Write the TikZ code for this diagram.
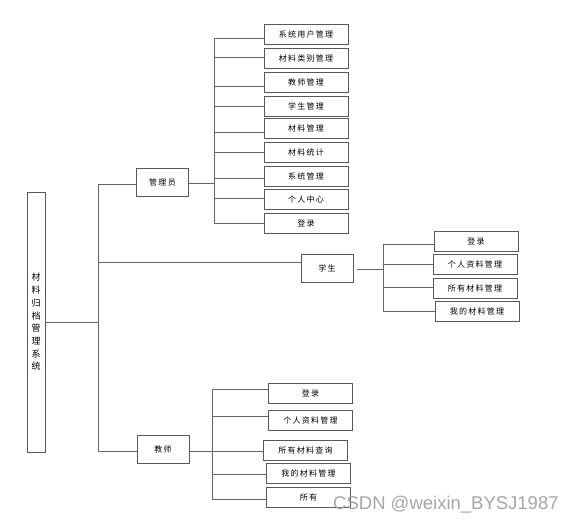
\documentclass[tikz,border=0pt]{standalone}
\usepackage{fontspec}
\newfontfamily\cjk[LetterSpace=16]{Noto Sans CJK SC}
\newfontfamily\wm{Liberation Sans}
\begin{document}
\begin{tikzpicture}[x=1pt,y=-1pt,
  box/.style={draw=black!65,line width=1pt,minimum width=84pt,minimum height=20pt,inner sep=0pt,font=\cjk\fontsize{8}{9}\selectfont},
  rolebox/.style={draw=black!65,line width=1pt,minimum width=52pt,minimum height=28pt,inner sep=0pt,font=\cjk\fontsize{8}{9}\selectfont},
  ln/.style={draw=black!60,line width=0.9pt}]
\useasboundingbox (0,0) rectangle (573,523);
% root
\node[draw=black!65,line width=1pt,minimum width=18pt,minimum height=260pt,inner sep=0pt,align=center,
  font=\cjk\fontsize{9}{12.7}\selectfont] (root) at (36,322) {材\\料\\归\\档\\管\\理\\系\\统};
% roles
\node[rolebox] (adm) at (162.5,182) {管理员};
\node[rolebox] (stu) at (327,268.5) {学生};
\node[rolebox] (tea) at (163,449.5) {教师};
% trunk
\coordinate (t0) at (98,322);
\coordinate (t1) at (98,184);
\coordinate (t2) at (98,262);
\coordinate (t3) at (98,451);
\draw[ln] (root.east |- t0) -- (t0);
\draw[ln] (t1) -- (t3);
\draw[ln] (t1) -- (t1 -| adm.west);
\draw[ln] (t2) -- (t2 -| stu.west);
\draw[ln] (t3) -- (t3 -| tea.west);
% admin children
\node[box] (a1) at (306,34.5) {系统用户管理};
\node[box] (a2) at (306,58) {材料类别管理};
\node[box] (a3) at (306,82) {教师管理};
\node[box] (a4) at (306,106) {学生管理};
\node[box] (a5) at (306,128) {材料管理};
\node[box] (a6) at (306,152) {材料统计};
\node[box] (a7) at (306,176) {系统管理};
\node[box] (a8) at (306,199) {个人中心};
\node[box] (a9) at (306,223) {登录};
\coordinate (ab0) at (214,183);
\coordinate (ab1) at (214,38);
\coordinate (ab2) at (214,57);
\coordinate (ab3) at (214,86);
\coordinate (ab4) at (214,106);
\coordinate (ab5) at (214,132);
\coordinate (ab6) at (214,152);
\coordinate (ab7) at (214,178);
\coordinate (ab8) at (214,198);
\coordinate (ab9) at (214,223);
\draw[ln] (adm.east |- ab0) -- (ab0);
\draw[ln] (ab1) -- (ab9);
\foreach \i in {1,...,9} \draw[ln] (ab\i) -- (ab\i -| a\i.west);
% student children
\node[box] (s1) at (476,241) {登录};
\node[box] (s2) at (475,264) {个人资料管理};
\node[box] (s3) at (475,288) {所有材料管理};
\node[box] (s4) at (477,311) {我的材料管理};
\coordinate (sb0) at (383,269);
\coordinate (sb1) at (383,244);
\coordinate (sb2) at (383,264);
\coordinate (sb3) at (383,287);
\coordinate (sb4) at (383,311);
\coordinate (sst) at (357,269);
\draw[ln] (sst) -- (sb0);
\draw[ln] (sb1) -- (sb4);
\foreach \i in {1,...,4} \draw[ln] (sb\i) -- (sb\i -| s\i.west);
% teacher children
\node[box] (e1) at (310.5,393) {登录};
\node[box] (e2) at (310.5,420.5) {个人资料管理};
\node[box] (e3) at (305.5,450) {所有材料查询};
\node[box] (e4) at (308.5,473.5) {我的材料管理};
\node[box] (e5) at (308.5,497) {所有};
\coordinate (eb0) at (212,451);
\coordinate (eb1) at (212,389);
\coordinate (eb2) at (212,416);
\coordinate (eb3) at (212,451);
\coordinate (eb4) at (212,474);
\coordinate (eb5) at (212,499);
\draw[ln] (tea.east |- eb0) -- (eb0);
\draw[ln] (eb1) -- (eb5);
\foreach \i in {1,...,5} \draw[ln] (eb\i) -- (eb\i -| e\i.west);
% watermark
\node[anchor=base west,inner sep=0pt,text=black!35,font=\wm\fontsize{18.5}{20}\selectfont] (wmk) at (333,509) {CSDN @weixin\_BYSJ1987};
\end{tikzpicture}
\end{document}
